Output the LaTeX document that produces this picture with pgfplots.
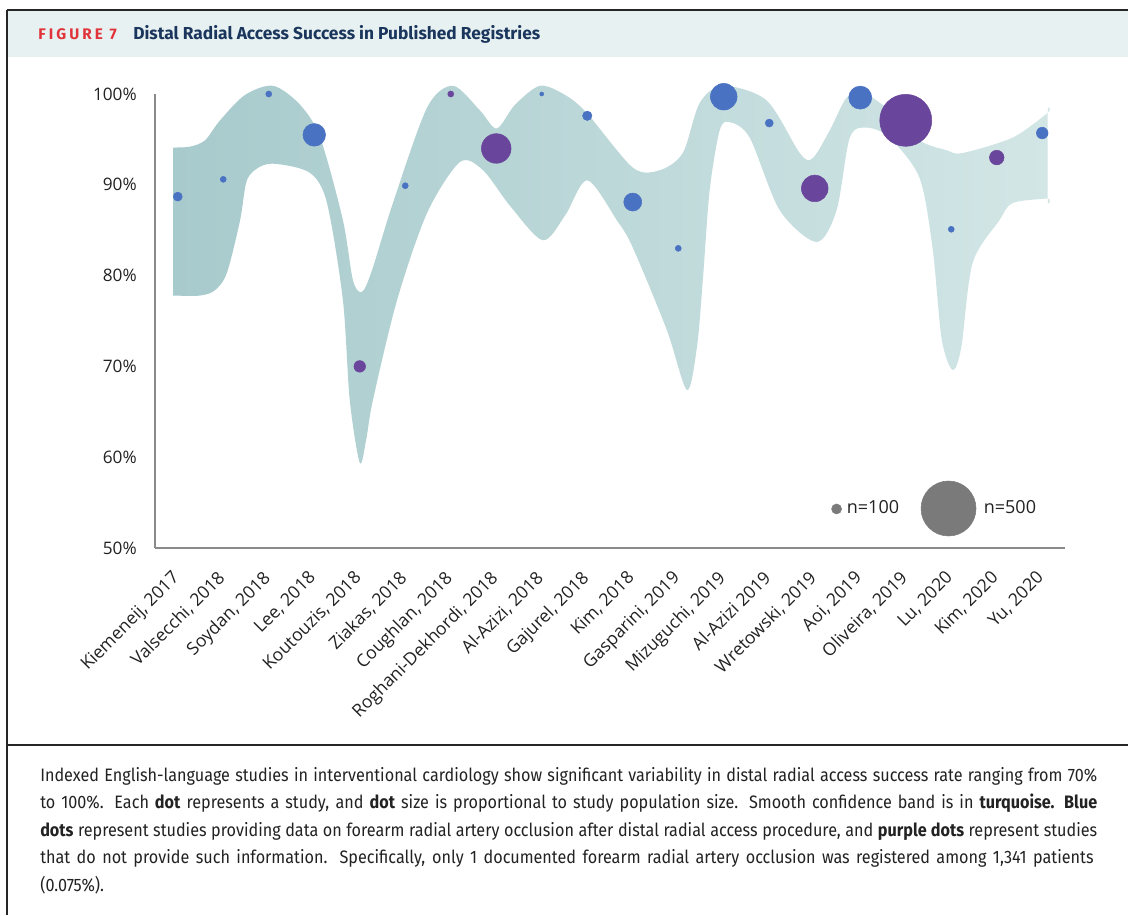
\documentclass[border=0pt]{standalone}
\usepackage{fontspec}
\usepackage{pgfplots}
\usepackage{pgfplotstable}
\pgfplotsset{compat=1.18}
\setmainfont{Open Sans}
\newfontfamily\capfont[FakeStretch=0.9]{Fira Sans}
\newfontfamily\titlefont{Fira Sans}
\newfontfamily\tickfont{Open Sans}
\definecolor{bandL}{HTML}{A7CACC}
\definecolor{bandR}{HTML}{D3E6E6}
\definecolor{bluedot}{HTML}{4A72C2}
\definecolor{purpdot}{HTML}{69469B}
\definecolor{legdot}{HTML}{7A7A7A}
\definecolor{hdr}{HTML}{E8F1F1}
\definecolor{figred}{HTML}{E0343A}
\definecolor{navy}{HTML}{1B365D}
\definecolor{axisgray}{HTML}{8A8A8A}
\definecolor{txt}{HTML}{222222}

% confidence band: upper edge left to right, then lower edge right to left
\pgfplotstableread{
x y
-0.10 94.1
-0.10 94.1
0.27 94.2
0.60 94.9
0.93 97.1
1.48 99.9
2.10 100.9
2.69 98.8
3.13 95.2
3.63 86.1
3.85 79.5
4.05 78.2
4.27 80.6
4.73 88.0
5.48 98.5
6.05 100.9
6.64 98.2
7.01 96.2
7.41 98.8
7.96 100.9
8.51 99.9
8.99 97.9
10.00 91.9
10.59 91.6
11.10 93.5
11.47 99.0
11.98 100.9
12.94 99.3
13.67 93.5
13.95 92.9
14.33 96.0
14.70 99.6
15.05 100.2
15.64 98.2
16.30 94.9
16.90 93.8
17.25 93.5
18.35 95.2
19.12 97.9
19.12 97.9
19.12 88.5
19.12 88.5
18.35 88.0
18.06 86.1
17.47 81.4
17.22 72.1
17.03 69.6
16.79 73.0
16.59 83.0
16.30 90.8
15.64 95.2
15.14 96.3
14.77 95.2
14.48 87.2
14.04 83.7
13.23 87.2
12.57 95.2
12.13 96.9
11.91 96.0
11.69 89.4
11.54 79.5
11.41 72.1
11.19 67.4
10.75 74.0
10.00 83.1
9.65 86.1
9.00 90.5
8.51 86.6
8.02 83.9
7.30 87.7
6.71 91.6
6.20 92.5
5.48 86.9
4.82 77.3
4.29 66.3
4.14 61.9
4.00 59.4
3.78 66.3
3.63 77.3
3.28 88.0
2.91 91.3
2.18 92.3
1.81 92.0
1.52 90.5
1.37 86.1
1.08 80.3
0.82 78.4
0.49 77.8
-0.10 77.8
-0.10 77.8
}\band

\pgfplotstableread{
x y r
0 88.7 4.5
1 90.6 3
2 100.0 3
3 95.5 11.3
5 89.9 3
8 100.0 2
9 97.6 4.7
10 88.1 9
11 83.0 3
12 99.7 13.3
13 96.8 4
15 99.6 11.5
17 85.1 3
19 95.7 5.8
}\bluedots

\pgfplotstableread{
x y r
4 70.0 5.8
6 100.0 3
7 94.0 14.8
14 89.6 13.3
16 97.1 26
18 93.0 7.3
}\purpledots

\pgfplotstableread{
x y r
14.48 54.3 5
16.94 54.35 27.5
}\legdots

\begin{document}
\begin{tikzpicture}[x=0.75pt,y=0.75pt]
\path[use as bounding box, fill=white] (0,0) rectangle (1128,915);
% header
\fill[hdr] (7,858) rectangle (1128,905);
\draw[line width=1.8pt, black!85] (7,905) -- (1128,905);
\draw[line width=1.8pt, black!85] (7,905) -- (7,0);
\draw[line width=1.8pt, black!85] (7,170) -- (1128,170);
\node[anchor=base west, inner sep=0pt, text=figred, font=\titlefont\bfseries\fontsize{11.5pt}{13pt}\selectfont\addfontfeature{LetterSpace=20}] at (38,875) {FIGURE 7};
\node[anchor=base west, inner sep=0pt, text=navy, font=\titlefont\bfseries\fontsize{13pt}{15pt}\selectfont] at (133,875) {Distal Radial Access Success in Published Registries};

% caption
\begin{scope}[every node/.style={anchor=base west, inner sep=0pt, text=txt, font=\capfont\fontsize{13.5pt}{15pt}\selectfont}]
\node at (40,134) {\makebox[792.75pt][s]{Indexed English-language studies in interventional cardiology show significant variability in distal radial access success rate ranging from 70\%}};
\node at (40,106.5) {\makebox[792.75pt][s]{to 100\%. Each \textbf{dot} represents a study, and \textbf{dot} size is proportional to study population size. Smooth confidence band is in \textbf{turquoise. Blue}}};
\node at (40,79) {\makebox[792.75pt][s]{\textbf{dots} represent studies providing data on forearm radial artery occlusion after distal radial access procedure, and \textbf{purple dots} represent studies}};
\node at (40,51.5) {\makebox[790pt][s]{that do not provide such information. Specifically, only 1 documented forearm radial artery occlusion was registered among 1,341 patients}};
\node at (40,24) {(0.075\%).};
\end{scope}

\begin{axis}[
  at={(116.25pt,275.25pt)}, anchor=south west,
  scale only axis, width=682.5pt, height=340.5pt,
  xmin=-0.5, xmax=19.5, ymin=50, ymax=100,
  clip=false,
  axis x line*=bottom, axis y line*=left,
  axis line style={-, draw=axisgray, line width=1.1pt},
  major tick length=0pt,
  tick style={draw=none},
  ytick={50,60,70,80,90,100},
  yticklabels={50\%,60\%,70\%,80\%,90\%,100\%},
  yticklabel style={anchor=east, inner sep=0pt, xshift=-13.5pt, text=txt, font=\tickfont\fontsize{12.9pt}{15pt}\selectfont},
  xtick={0,...,19},
  xticklabels={{Kiemeneij, 2017},{Valsecchi, 2018},{Soydan, 2018},{Lee, 2018},{Koutouzis, 2018},{Ziakas, 2018},{Coughlan, 2018},{Roghani-Dekhordi, 2018},{Al-Azizi, 2018},{Gajurel, 2018},{Kim, 2018},{Gasparini, 2019},{Mizuguchi, 2019},{Al-Azizi 2019},{Wretowski, 2019},{Aoi, 2019},{Oliveira, 2019},{Lu, 2020},{Kim, 2020},{Yu, 2020}},
  xticklabel style={xshift=-5.2pt, yshift=-16pt, rotate=45, anchor=north east, inner sep=0pt, text=txt, font=\tickfont\fontsize{13.2pt}{15pt}\selectfont},
]
\addplot[smooth, draw=none, left color=bandL, right color=bandR, forget plot] table[x=x,y=y] {\band};

\addplot[scatter, only marks, mark=*, color=bluedot, forget plot,
  scatter/use mapped color={draw=bluedot, fill=bluedot},
  visualization depends on={0.75*\thisrow{r} \as \rad},
  scatter/@pre marker code/.append style={/tikz/mark size=\rad}]
  table[x=x,y=y] {\bluedots};
\addplot[scatter, only marks, mark=*, color=purpdot, forget plot,
  scatter/use mapped color={draw=purpdot, fill=purpdot},
  visualization depends on={0.75*\thisrow{r} \as \rad},
  scatter/@pre marker code/.append style={/tikz/mark size=\rad}]
  table[x=x,y=y] {\purpledots};
\addplot[scatter, only marks, mark=*, color=legdot, forget plot,
  scatter/use mapped color={draw=legdot, fill=legdot},
  visualization depends on={0.75*\thisrow{r} \as \rad},
  scatter/@pre marker code/.append style={/tikz/mark size=\rad}]
  table[x=x,y=y] {\legdots};
\node[anchor=west, inner sep=0pt, text=txt, font=\tickfont\fontsize{13.5pt}{15pt}\selectfont] at (axis cs:14.70,54.5) {n=100};
\node[anchor=west, inner sep=0pt, text=txt, font=\tickfont\fontsize{13.5pt}{15pt}\selectfont] at (axis cs:17.71,54.5) {n=500};
\end{axis}
\end{tikzpicture}
\end{document}
